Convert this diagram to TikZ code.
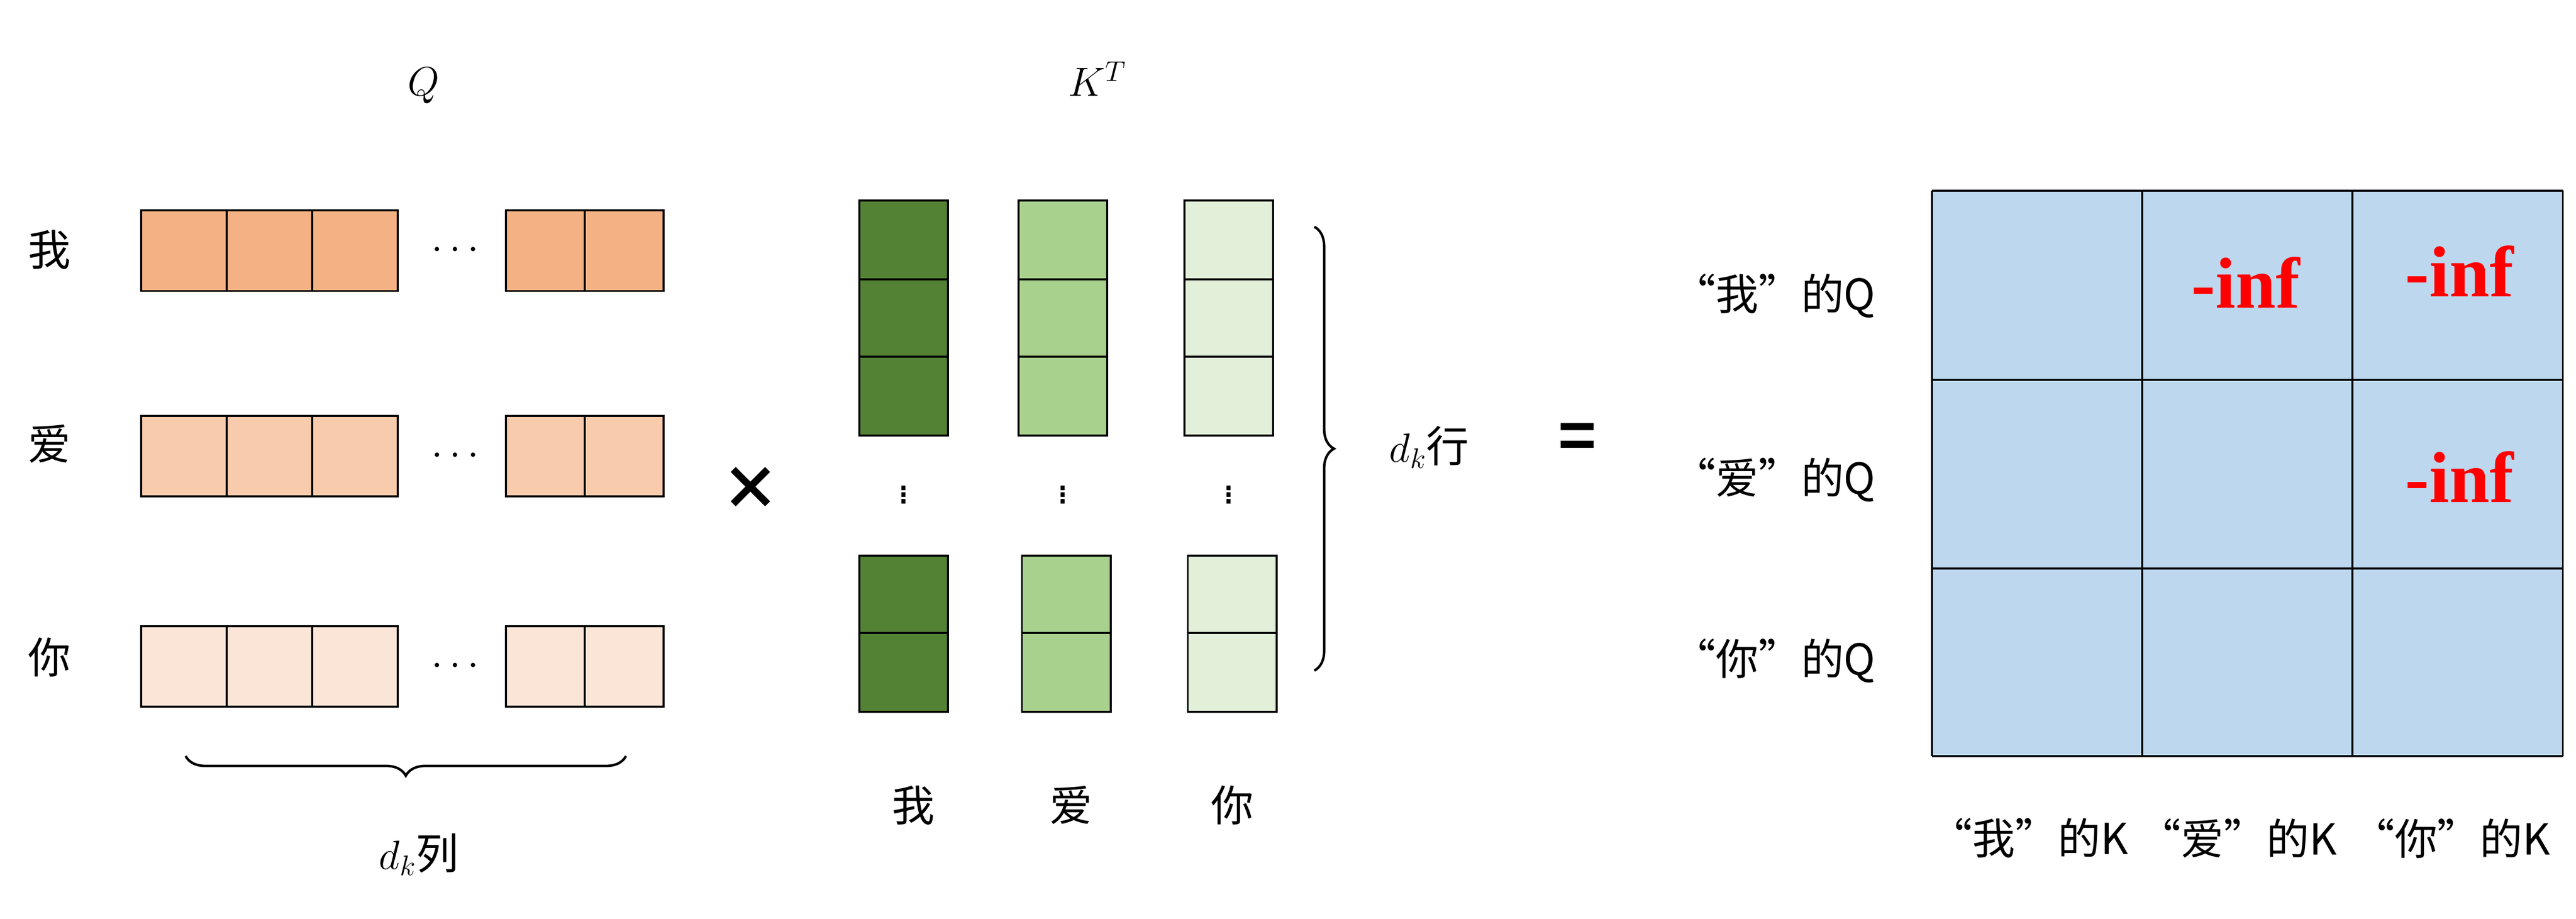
\documentclass[tikz,border=0pt]{standalone}
\usepackage{fontspec}
\setmainfont{Liberation Sans}
\newfontfamily\cjk{Noto Sans CJK SC}
\newfontfamily\tms{Liberation Serif}
\usetikzlibrary{decorations.pathreplacing}
\definecolor{q1}{HTML}{F4B183}\definecolor{q2}{HTML}{F8CBAD}\definecolor{q3}{HTML}{FBE5D6}
\definecolor{k1}{HTML}{548235}\definecolor{k2}{HTML}{A9D18E}\definecolor{k3}{HTML}{E2F0D9}
\definecolor{mb}{HTML}{BDD7EE}
\tikzset{cell/.style={draw=black,line width=1.2pt},
 lbl/.style={font=\cjk\fontsize{26}{30}\selectfont},
 inf/.style={text=red,font=\tms\bfseries\fontsize{44}{50}\selectfont},
 brc/.style={decorate,decoration={brace,amplitude=12pt},line width=1.5pt}}
\begin{document}
\begin{tikzpicture}[x=1pt,y=-1pt]
\useasboundingbox (0,0) rectangle (1568,559);
% Q
\foreach \c/\ya/\yb/\n in {q1/128/177/1,q2/253/302/2,q3/381/430/3}{
 \foreach \xa/\xb in {86/138,138/190,190/242,308/356,356/404}
  \draw[cell,fill=\c] (\xa,\ya) rectangle (\xb,\yb);
 \node[font=\fontsize{26}{30}\selectfont] at (277,{(\ya+\yb)/2}) {$\cdots$};
}
\node[lbl] (w1) at (30,152) {我};
\node[lbl] (a1) at (30,270) {爱};
\node[lbl] (n1) at (30,400) {你};
\node[font=\fontsize{26}{30}\selectfont] (Q) at (258,52) {$Q$};
\draw[brc] (381,460) -- (113,460);
\node[lbl] (dkl) at (255,520) {$d_k$列};
\node[font=\bfseries\fontsize{36}{40}\selectfont] (x) at (457,297) {\cjk ×};
% K^T
\foreach \c/\xa/\xb/\xc/\xd in {k1/523/577/523/577,k2/620/674/622/676,k3/721/775/723/777}{
 \foreach \ya/\yb in {122/170,170/217,217/265}
  \draw[cell,fill=\c] (\xa,\ya) rectangle (\xb,\yb);
 \foreach \ya/\yb in {338/385,385/433}
  \draw[cell,fill=\c] (\xc,\ya) rectangle (\xd,\yb);
 \node[font=\fontsize{26}{30}\selectfont] at ({(\xa+\xb)/2},298) {$\vdots$};
}
\node[lbl] (w2) at (556,490) {我};
\node[lbl] (a2) at (652,490) {爱};
\node[lbl] (n2) at (750,490) {你};
\node[font=\fontsize{26}{30}\selectfont] (KT) at (668,48) {$K^T$};
\draw[brc] (800,138) -- (800,408);
\node[lbl] (dkr) at (870,272) {$d_k$行};
\node[font=\bfseries\fontsize{40}{44}\selectfont] (eq) at (960,268) {=};
% result
\fill[mb] (1176,116) rectangle (1560,460);
\foreach \x in {1176,1304,1432,1560} \draw[line width=1.2pt] (\x,116) -- (\x,460);
\foreach \y in {116,231,346,460} \draw[line width=1.2pt] (1176,\y) -- (1560,\y);
\node[inf] (i1) at (1367,172) {-inf};
\node[inf] (i2) at (1497,165) {-inf};
\node[inf] (i3) at (1497,290) {-inf};
\node[lbl] (r1) at (1080,180) {“我”的Q};
\node[lbl] (r2) at (1080,292) {“爱”的Q};
\node[lbl] (r3) at (1080,402) {“你”的Q};
\node[lbl] (c1) at (1235,510) {“我”的K};
\node[lbl] (c2) at (1362,510) {“爱”的K};
\node[lbl] (c3) at (1492,510) {“你”的K};
\end{tikzpicture}
\end{document}
